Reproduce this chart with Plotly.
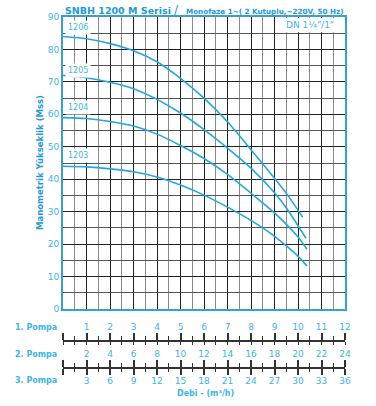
import plotly.graph_objects as go

# ---- data (flow for 1 pump, m3/h ; head, mss) ----
q_1206 = [0, 1, 2, 3, 4, 5, 6, 7, 8, 9, 9.56, 10.2]
h_1206 = [84, 83.3, 81.8, 79.6, 76.2, 71.1, 65, 57.7, 49.1, 40.3, 35.1, 28.3]
q_1205 = [0, 1, 2, 3, 4, 5, 6, 7, 8, 9, 9.56, 10.34]
h_1205 = [72, 71.3, 69.9, 67.9, 64.6, 60.4, 55.3, 49.6, 43.4, 35.8, 30.6, 21.8]
q_1204 = [0, 1, 2, 3, 4, 5, 6, 7, 8, 9, 10, 10.38]
h_1204 = [59, 58.7, 57.8, 56.4, 53.9, 50.4, 46.4, 41.5, 35.7, 29.6, 22.2, 18.4]
q_1203 = [0, 1, 2, 3, 4, 5, 6, 7, 8, 9, 10, 10.38]
h_1203 = [44, 43.8, 43.2, 42.3, 40.7, 38.2, 35.1, 31.4, 27.3, 22.4, 16.3, 13.3]

curve_names = ["1206", "1205", "1204", "1203"]
label_heads = [86.8, 73.4, 62, 47.3]

pompa1_ticks = list(range(1, 13))
pompa2_ticks = [2 * v for v in pompa1_ticks]
pompa3_ticks = [3 * v for v in pompa1_ticks]

TITLE = "SNBH 1200 M Serisi"
SUBTITLE = "Monofaze 1~( 2 Kutuplu,~220V, 50 Hz)"
DN_TEXT = "DN 1¼\"/1\""
YTITLE = "Manometrik Yükseklik (Mss)"
XTITLE = "Debi - (m³/h)"

CURVE = "#1fa8e3"
LIGHT = "#3db4ea"
DARKB = "#1e9ad6"
FRAME = "#3a9fd0"
FONT = "DejaVu Sans"

fig = go.Figure()
for q, h in [(q_1206, h_1206), (q_1205, h_1205), (q_1204, h_1204), (q_1203, h_1203)]:
    fig.add_trace(go.Scatter(x=q, y=h, mode="lines",
                             line=dict(color=CURVE, width=1.6, shape="spline", smoothing=0.6),
                             showlegend=False, hoverinfo="skip"))

# invisible traces so the extra flow axes render
for ax in ["x2", "x3", "x4", "x5"]:
    fig.add_trace(go.Scatter(x=[0, 12], y=[0, 0], xaxis=ax, yaxis="y", mode="lines",
                             line=dict(width=0), opacity=0, showlegend=False, hoverinfo="skip"))

H_PLOT = 406 - 17 - 10
Y0 = (396 - 309) / H_PLOT
P1 = (396 - 341) / H_PLOT
P2 = (396 - 368) / H_PLOT

tick_font = dict(family=FONT, size=9, color=LIGHT)

def flow_axis(pos, side, ticklen, minorlen, labels, standoff=None):
    d = dict(overlaying="x", anchor="free", position=pos, side=side, range=[0, 12],
             automargin=False,
             showgrid=False, zeroline=False, showline=True, linecolor="#333", linewidth=1.5,
             ticks="outside", ticklen=ticklen, tickwidth=1.5, tickcolor="#333",
             tickmode="array", tickvals=[0] + pompa1_ticks,
             ticktext=[""] + [str(v) for v in labels] if labels else [""] * 13,
             showticklabels=bool(labels), tickfont=tick_font,
             minor=dict(ticks="outside", ticklen=minorlen, tickwidth=1.2, tickcolor="#333",
                        dtick=0.5, tick0=0, showgrid=False))
    if standoff is not None:
        d["ticklabelstandoff"] = standoff
    return d

fig.update_layout(
    width=376, height=406,
    margin=dict(l=63, r=31, t=17, b=10, autoexpand=False),
    paper_bgcolor="white", plot_bgcolor="white",
    xaxis=dict(range=[0, 12], showticklabels=False, ticks="", zeroline=False, automargin=False,
               showgrid=True, gridcolor="#222", gridwidth=1, dtick=1, tick0=0,
               minor=dict(dtick=0.5, tick0=0, showgrid=True, gridcolor="#8a8a8a", gridwidth=1.4),
               showline=True, mirror=True, linecolor=FRAME, linewidth=2),
    yaxis=dict(domain=[Y0, 1], range=[0, 90], dtick=10, tick0=0, zeroline=False, automargin=False,
               showgrid=True, gridcolor="#222", gridwidth=1,
               minor=dict(dtick=5, tick0=0, showgrid=True, gridcolor="#555", gridwidth=1),
               showline=True, mirror=True, linecolor=FRAME, linewidth=2,
               tickfont=tick_font, ticks=""),
    xaxis2=flow_axis(P1, "top", 7, 4, pompa1_ticks),
    xaxis3=flow_axis(P1, "bottom", 6, 3, None),
    xaxis4=flow_axis(P2, "top", 7, 4, pompa2_ticks),
    xaxis5=flow_axis(P2, "bottom", 6, 3, pompa3_ticks, standoff=-2),
    showlegend=False,
)

# white box behind DN label
fig.add_shape(type="rect", xref="x", yref="y", x0=9.05, x1=11.95, y0=85.3, y1=89.7,
              fillcolor="white", line=dict(width=0), layer="above")
fig.add_annotation(x=10.5, y=87.5, xref="x", yref="y", text=DN_TEXT, showarrow=False,
                   xanchor="center", yanchor="middle",
                   font=dict(family=FONT, size=9, color=LIGHT))

for name, yv in zip(curve_names, label_heads):
    fig.add_annotation(x=0.1, y=yv, xref="x", yref="y", text=name, showarrow=False,
                       xanchor="left", yanchor="middle", bgcolor="white", borderpad=2,
                       font=dict(family=FONT, size=8, color=LIGHT))

def px_x(px):
    return (px - 63) / 282

def px_y(py):
    return (396 - py) / H_PLOT

# titles
fig.add_annotation(x=px_x(63), y=px_y(10), xref="paper", yref="paper", text="<b>" + TITLE + "</b>",
                   showarrow=False, xanchor="left", yanchor="middle",
                   font=dict(family=FONT, size=9.5, color=DARKB))
fig.add_annotation(x=px_x(176), y=px_y(10), xref="paper", yref="paper", text="/",
                   showarrow=False, xanchor="center", yanchor="middle",
                   font=dict(family=FONT, size=12, color=DARKB))
fig.add_annotation(x=px_x(345), y=px_y(11), xref="paper", yref="paper", text="<b>" + SUBTITLE + "</b>",
                   showarrow=False, xanchor="right", yanchor="middle",
                   font=dict(family=FONT, size=7.2, color=DARKB))

fig.add_annotation(x=px_x(40), y=px_y(163), xref="paper", yref="paper", text="<b>" + YTITLE + "</b>",
                   showarrow=False, textangle=-90, xanchor="center", yanchor="middle",
                   font=dict(family=FONT, size=8.5, color=DARKB))

for txt, py in [("1. Pompa", 327), ("2. Pompa", 354), ("3. Pompa", 380)]:
    fig.add_annotation(x=px_x(59), y=px_y(py), xref="paper", yref="paper", text="<b>" + txt + "</b>",
                       showarrow=False, xanchor="right", yanchor="middle",
                       font=dict(family=FONT, size=8, color=LIGHT))

fig.add_annotation(x=px_x(205), y=px_y(393), xref="paper", yref="paper",
                   text="<b>" + XTITLE + "</b>", showarrow=False,
                   xanchor="center", yanchor="middle",
                   font=dict(family=FONT, size=8, color=LIGHT))

fig.write_html("out.html", config={"displayModeBar": False},
               post_script="document.body.style.margin='0';document.body.style.padding='0';")
